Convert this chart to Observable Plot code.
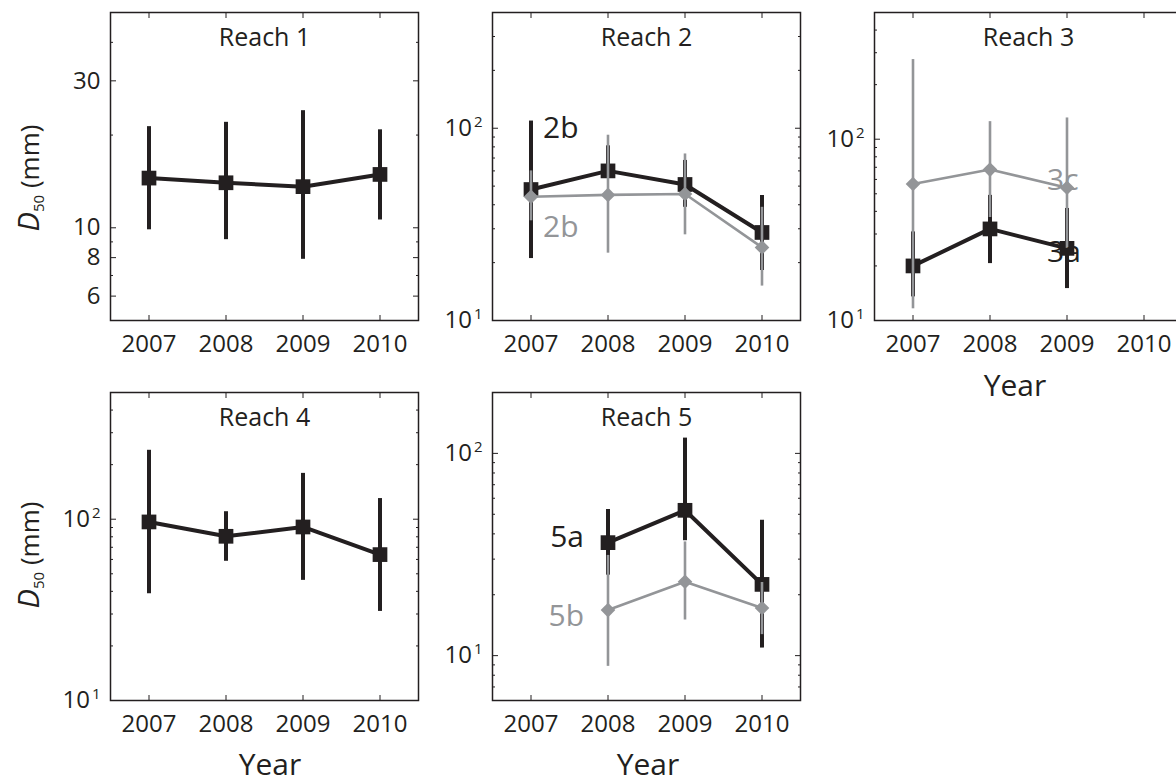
<!DOCTYPE html>
<html>
<head>
<meta charset="utf-8">
<script src="https://cdn.jsdelivr.net/npm/d3@7"></script>
<script src="https://cdn.jsdelivr.net/npm/@observablehq/plot@0.6"></script>
<style>
  html, body { margin: 0; padding: 0; background: #fff; }
  body { width: 1176px; height: 782px; overflow: hidden; position: relative; font-family: "Open Sans", sans-serif; color: #231f20; }
  .panel { position: absolute; }
  .panel svg { max-width: none !important; display: block; }
  .lbl { position: absolute; white-space: nowrap; line-height: 1; transform: translate(-50%, -50%); }
  .ylab { position: absolute; white-space: nowrap; line-height: 1; transform: translate(-50%, -50%) rotate(-90deg); font-size: 26px; }
</style>
</head>
<body>
<script>
// ---------------- data ----------------
const years = [2007, 2008, 2009, 2010];
const yearLabels = ["2007", "2008", "2009", "2010"];

// Reach 1
const r1Years = [2007, 2008, 2009, 2010];
const r1Median = [14.5, 14.0, 13.6, 14.9];
const r1Lower = [9.85, 9.15, 7.9, 10.6];
const r1Upper = [21.3, 22, 24, 20.8];

// Reach 2 (black and grey sub-reaches)
const r2BlackYears = [2007, 2008, 2009, 2010];
const r2BlackMedian = [48, 60, 51, 28.7];
const r2BlackLower = [21, 56, 38.8, 18.2];
const r2BlackUpper = [109, 81, 68, 44.7];
const r2GreyYears = [2007, 2008, 2009, 2010];
const r2GreyMedian = [44, 45, 45.5, 24];
const r2GreyLower = [33, 22.4, 27.9, 15.1];
const r2GreyUpper = [60, 92, 73.5, 38.8];

// Reach 3 (3a black, 3c grey)
const r3BlackYears = [2007, 2008, 2009];
const r3BlackMedian = [20, 32, 25];
const r3BlackLower = [13.5, 20.6, 15];
const r3BlackUpper = [30.8, 49, 41.5];
const r3GreyYears = [2007, 2008, 2009];
const r3GreyMedian = [56.6, 68, 54];
const r3GreyLower = [11.6, 37, 25];
const r3GreyUpper = [275, 125, 131];

// Reach 4
const r4Years = [2007, 2008, 2009, 2010];
const r4Median = [96.6, 80.5, 90.6, 63.8];
const r4Lower = [38.8, 58.6, 46, 31];
const r4Upper = [240, 110, 179, 130];

// Reach 5 (5a black, 5b grey)
const r5BlackYears = [2008, 2009, 2010];
const r5BlackMedian = [36.2, 52.3, 22.5];
const r5BlackLower = [25, 37, 10.9];
const r5BlackUpper = [52.8, 119, 46.7];
const r5GreyYears = [2008, 2009, 2010];
const r5GreyMedian = [16.8, 23.2, 17.2];
const r5GreyLower = [8.85, 15, 12.7];
const r5GreyUpper = [31.3, 36.5, 23];

// y tick values and labels
const r1TickValues = [6, 8, 10, 30];
const r1TickLabels = ["6", "8", "10", "30"];
const r1MinorTicks = [7, 9, 20, 40];
const decadeTickValues = [10, 100];
const decadeTickLabels = ["10^1", "10^2"];
const minor10to500 = [20, 30, 40, 50, 60, 70, 80, 90, 200, 300, 400];
const minor6to200 = [7, 8, 9, 20, 30, 40, 50, 60, 70, 80, 90];

// series labels (text, year, D50 value)
const r2LabelText = ["2b", "2b"];
const r2LabelYear = [2007, 2007];
const r2LabelValue = [100, 30.4];
const r3LabelText = ["3c", "3a"];
const r3LabelYear = [2009, 2009];
const r3LabelValue = [59.6, 23.8];
const r5LabelText = ["5a", "5b"];
const r5LabelYear = [2008, 2008];
const r5LabelValue = [38.5, 15.6];

// ---------------- styling ----------------
const BLACK = "#231f20";
const GREY = "#939598";
const FRAME = 308;
const ML = 90, MT = 12, MR = 12, MB = 50;

function rows(ys, med, lo, hi) {
  return ys.map((y, i) => ({year: y, median: med[i], lower: lo[i], upper: hi[i]}));
}

function seriesMarks(data, color, kind) {
  const black = kind === "black";
  return [
    Plot.ruleX(data, {x: "year", y1: "lower", y2: "upper", stroke: color, strokeWidth: black ? 4 : 2.6}),
    Plot.line(data, {x: "year", y: "median", stroke: color, strokeWidth: black ? 4 : 2.6, strokeLinejoin: "miter"}),
    Plot.dot(data, black
      ? {x: "year", y: "median", symbol: "square", r: 8.3, fill: color, stroke: "none"}
      : {x: "year", y: "median", symbol: "diamond2", r: 6.6, fill: color, stroke: "none"})
  ];
}

function makePanel(cfg) {
  const marks = [
    Plot.frame({stroke: BLACK, strokeWidth: 1.5}),
    Plot.axisX(years, {anchor: "bottom", tickSize: -5, tickPadding: 19.5, label: null,
      tickFormat: d => yearLabels[years.indexOf(d)]}),
    Plot.axisX(years, {anchor: "top", tickSize: -5, label: null, tickFormat: () => ""}),
    Plot.axisY(cfg.tickValues, {anchor: "left", tickSize: -6, tickPadding: 16, label: null,
      tickFormat: d => cfg.tickLabels[cfg.tickValues.indexOf(d)]}),
    Plot.axisY(cfg.tickValues, {anchor: "right", tickSize: -6, label: null, tickFormat: () => ""}),
    Plot.axisY(cfg.minor, {anchor: "left", tickSize: -3, label: null, tickFormat: () => ""}),
    Plot.axisY(cfg.minor, {anchor: "right", tickSize: -3, label: null, tickFormat: () => ""}),
    Plot.text([cfg.title], {frameAnchor: "top", lineAnchor: "middle", dy: 25, fontSize: 25, fill: BLACK})
  ];
  for (const s of cfg.series) marks.push(...seriesMarks(s.data, s.color, s.kind));
  if (cfg.labels) {
    const L = cfg.labels;
    const ld = L.text.map((t, i) => ({t, year: L.year[i], value: L.value[i], color: L.colors[i]}));
    marks.push(Plot.text(ld, {x: "year", y: "value", text: "t", fill: "color", fontSize: 30,
      textAnchor: L.anchor, dx: L.dx}));
  }
  const W = ML + FRAME + MR, H = MT + FRAME + MB;
  const svg = Plot.plot({
    width: W,
    height: H,
    marginLeft: ML, marginRight: MR, marginTop: MT, marginBottom: MB,
    x: {type: "linear", domain: [2006.5, 2010.5]},
    y: {type: "log", domain: cfg.yDomain},
    color: {type: "identity"},
    style: {fontSize: "24px", fontFamily: "Open Sans", color: BLACK, background: "transparent", overflow: "visible", maxWidth: "none"},
    marks
  });
  // superscripts for 10^n labels
  svg.querySelectorAll("text").forEach(t => {
    const s = t.textContent;
    const i = s.indexOf("^");
    if (i >= 0) {
      t.textContent = s.slice(0, i);
      const sup = document.createElementNS("http://www.w3.org/2000/svg", "tspan");
      sup.setAttribute("dy", "-0.6em");
      sup.setAttribute("dx", "2");
      sup.setAttribute("font-size", "15");
      sup.textContent = s.slice(i + 1);
      t.appendChild(sup);
    }
  });
  const div = document.createElement("div");
  div.className = "panel";
  div.style.left = (cfg.left - ML) + "px";
  div.style.top = (cfg.top - MT) + "px";
  div.style.width = W + "px";
  div.style.height = H + "px";
  div.appendChild(svg);
  document.body.appendChild(div);
}

makePanel({
  title: "Reach 1", left: 110, top: 12, yDomain: [5, 50],
  tickValues: r1TickValues, tickLabels: r1TickLabels, minor: r1MinorTicks,
  series: [{data: rows(r1Years, r1Median, r1Lower, r1Upper), color: BLACK, kind: "black"}]
});
makePanel({
  title: "Reach 2", left: 491.5, top: 12, yDomain: [10, 400],
  tickValues: decadeTickValues, tickLabels: decadeTickLabels, minor: minor10to500.filter(v => v < 400),
  series: [
    {data: rows(r2BlackYears, r2BlackMedian, r2BlackLower, r2BlackUpper), color: BLACK, kind: "black"},
    {data: rows(r2GreyYears, r2GreyMedian, r2GreyLower, r2GreyUpper), color: GREY, kind: "grey"}
  ],
  labels: {text: r2LabelText, year: r2LabelYear, value: r2LabelValue, colors: [BLACK, GREY], anchor: "start", dx: 12}
});
makePanel({
  title: "Reach 3", left: 874, top: 12, yDomain: [10, 500],
  tickValues: decadeTickValues, tickLabels: decadeTickLabels, minor: minor10to500,
  series: [
    {data: rows(r3BlackYears, r3BlackMedian, r3BlackLower, r3BlackUpper), color: BLACK, kind: "black"},
    {data: rows(r3GreyYears, r3GreyMedian, r3GreyLower, r3GreyUpper), color: GREY, kind: "grey"}
  ],
  labels: {text: r3LabelText, year: r3LabelYear, value: r3LabelValue, colors: [GREY, BLACK], anchor: "start", dx: -20}
});
makePanel({
  title: "Reach 4", left: 110, top: 392, yDomain: [10, 500],
  tickValues: decadeTickValues, tickLabels: decadeTickLabels, minor: minor10to500,
  series: [{data: rows(r4Years, r4Median, r4Lower, r4Upper), color: BLACK, kind: "black"}]
});
makePanel({
  title: "Reach 5", left: 491.5, top: 392, yDomain: [6, 200],
  tickValues: decadeTickValues, tickLabels: decadeTickLabels, minor: minor6to200,
  series: [
    {data: rows(r5BlackYears, r5BlackMedian, r5BlackLower, r5BlackUpper), color: BLACK, kind: "black"},
    {data: rows(r5GreyYears, r5GreyMedian, r5GreyLower, r5GreyUpper), color: GREY, kind: "grey"}
  ],
  labels: {text: r5LabelText, year: r5LabelYear, value: r5LabelValue, colors: [BLACK, GREY], anchor: "end", dx: -24}
});

// axis titles
function addLabel(html, cls, x, y, size) {
  const d = document.createElement("div");
  d.className = cls;
  d.style.left = x + "px";
  d.style.top = y + "px";
  if (size) d.style.fontSize = size + "px";
  d.innerHTML = html;
  document.body.appendChild(d);
}
const yTitle = '<i style="font-size:29px">D</i><sub style="font-size:15px;vertical-align:-5px">50</sub> (mm)';
addLabel(yTitle, "ylab", 29, 178);
addLabel(yTitle, "ylab", 29, 555);
addLabel("Year", "lbl", 1015, 385, 30);
addLabel("Year", "lbl", 270, 764, 30);
addLabel("Year", "lbl", 648, 764, 30);
</script>
</body>
</html>
